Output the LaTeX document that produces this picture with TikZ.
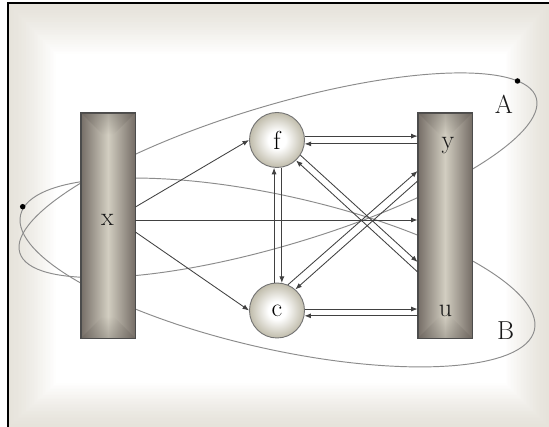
\documentclass[tikz,border=0pt]{standalone}
\usepackage{fontspec}
\usetikzlibrary{arrows.meta,fadings}
\definecolor{bgc}{RGB}{230,227,219}
\definecolor{rdark}{RGB}{118,110,103}
\definecolor{rlight}{RGB}{210,206,193}
\definecolor{cout}{RGB}{192,188,171}
\definecolor{ellc}{RGB}{140,140,140}
\definecolor{arrc}{RGB}{65,65,65}
\pgfdeclareradialshading{ballshade}{\pgfpoint{0bp}{0bp}}{color(0bp)=(white); color(8bp)=(white); color(25bp)=(cout); color(50bp)=(cout)}
\begin{document}
\begin{tikzpicture}[x=1pt,y=-1pt,
  lbl/.style={font=\fontsize{26}{30}\selectfont, text=black!90, inner sep=0pt},
  barbox/.style={draw=black!70, line width=0.8pt, minimum width=54pt, minimum height=225pt, inner sep=0pt, left color=rdark, right color=rdark, middle color=rlight},
  ball/.style={circle, draw=black!55, line width=0.9pt, minimum size=55pt, inner sep=0pt, shading=ballshade, font=\fontsize{26}{30}\selectfont},
  conn/.style={draw=arrc, line width=0.85pt, -{Latex[length=6.5pt,width=5pt]}},
  ellp/.style={draw=ellc, line width=0.95pt},
  dotc/.style={circle, fill=black, inner sep=0pt, minimum size=5.5pt},
  bevel/.style={fill=rdark!80!black, fill opacity=0.33}
]
\useasboundingbox (0,0) rectangle (549,427);
% background
\fill[bgc] (8,3) rectangle (549,427);
\foreach \i in {1,...,30} {
  \pgfmathtruncatemacro\p{100*(\i/30)^1.3}
  \fill[white!\p!bgc] (8+\i*1.6, 3+\i*1.7) rectangle (549-\i*1.45, 427-\i*1.45);
}
\draw[line width=1.2pt] (8,427) -- (8,3) -- (549,3);

% ellipses
\coordinate (cA) at (278,175.25);
\coordinate (cB) at (277.5,272.5);
\draw[ellp, rotate around={16.7:(cA)}] (cA) ellipse [x radius=269.6pt, y radius=69.8pt];
\draw[ellp, rotate around={-12.6:(cB)}] (cB) ellipse [x radius=263.3pt, y radius=76.8pt];
\node[dotc] (dA) at (517.5,81) {};
\node[dotc] (dB) at (22.7,206.7) {};

% bars
\node[barbox] (X) at (108,225.5) {};
\node[barbox] (R) at (445,225.5) {};
\foreach \b in {X,R} {
  \fill[bevel, path fading=south] (\b.north west) -- (\b.north east) -- ([shift={(-22,22)}]\b.north east) -- ([shift={(22,22)}]\b.north west) -- cycle;
  \fill[bevel, path fading=north] (\b.south west) -- (\b.south east) -- ([shift={(-22,-22)}]\b.south east) -- ([shift={(22,-22)}]\b.south west) -- cycle;
  \draw[draw=black!70, line width=0.8pt] (\b.north west) rectangle (\b.south east);
}
\node[lbl, anchor=base] (xl) at (107.5,226) {x};
\node[lbl, anchor=base] (yl) at (448,149) {y};
\node[lbl, anchor=base] (ul) at (445.5,317) {u};
\node[lbl, anchor=base] (Al) at (504,114) {A};
\node[lbl, anchor=base] (Bl) at (505.5,340) {B};

% circles
\node[ball] (f) at (277,140) {f};
\node[ball] (c) at (277,310.5) {c};

% connectors
\draw[conn] (X.east |- 0,207) -- (f.west);
\draw[conn] (X.east |- 0,220) -- (R.west |- 0,220);
\draw[conn] (X.east |- 0,232) -- (c.west);
\draw[conn] (f.8) -- (f.8 -| R.west);
\draw[conn] (R.west |- f.-8) -- (f.-8);
\draw[conn] (c.3) -- (c.3 -| R.west);
\draw[conn] (R.west |- c.-11) -- (c.-11);
\draw[conn] (f.-80) -- (c.80);
\draw[conn] (c.96) -- (f.264);
\draw[conn] (f.-33) -- (R.west |- 0,262);
\draw[conn] (R.west |- 0,272) -- (f.-47);
\draw[conn] (c.67) -- (R.west |- 0,171);
\draw[conn] (R.west |- 0,181) -- (c.49);
\end{tikzpicture}
\end{document}
